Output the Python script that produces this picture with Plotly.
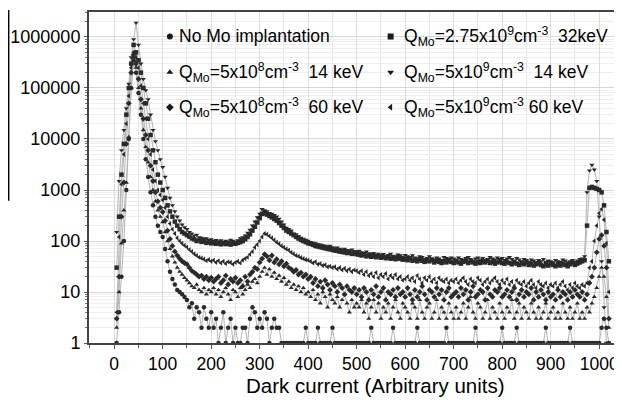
import plotly.graph_objects as go

# Channel positions (Arbitrary units), every 5 channels
channels = list(range(5, 1021, 5))

# Counts per series, rows of 20 channels (5-100, 105-200, ..., 905-1000, 1005-1020)
no_mo = [
    1, 4, 20, 100, 1000, 10000, 100000, 350000, 200000, 80000, 30000, 10000, 4000, 1800, 900, 500, 300, 200, 150, 120,
    70, 40, 25, 18, 14, 11, 10, 9, 8, 7, 5, 6, 3, 5, 4, 2, 5, 3, 2, 4,
    2, 3, 1, 2, 4, 1, 2, 3, 1, 2, 1, 1, 2, 2, 1, 3, 5, 4, 2, 3,
    2, 4, 3, 1, 2, 3, 2, 2, 1, 1, 1, 1, 1, 1, 1, 1, 1, 1, 2, 1,
    1, 1, 1, 2, 1, 1, 1, 1, 1, 2, 1, 1, 1, 1, 1, 1, 1, 1, 1, 1,
    1, 1, 1, 1, 1, 2, 1, 1, 1, 1, 1, 1, 1, 1, 2, 1, 1, 1, 1, 1,
    1, 1, 1, 1, 2, 1, 1, 1, 1, 1, 1, 1, 1, 1, 1, 1, 2, 1, 1, 1,
    1, 1, 1, 1, 1, 1, 1, 1, 2, 1, 1, 1, 1, 1, 1, 1, 1, 1, 1, 2,
    1, 1, 1, 1, 1, 2, 1, 1, 1, 1, 1, 1, 1, 1, 1, 1, 1, 2, 1, 1,
    1, 1, 1, 1, 1, 1, 1, 2, 1, 1, 1, 1, 1, 1, 1, 1, 1, 1, 1, 1,
    2, 3, 2, 1,
]

q275e9_32 = [
    30, 300, 2000, 8000, 30000, 100000, 300000, 700000, 500000, 350000, 200000, 100000, 50000, 25000, 12000, 6000, 3500, 2000, 1400, 1000,
    700, 500, 380, 300, 240, 200, 170, 150, 140, 130, 122, 112, 108, 100, 103, 96, 99, 92, 95, 90,
    92, 88, 90, 86, 91, 87, 89, 85, 90, 88, 92, 95, 100, 108, 120, 135, 160, 190, 230, 280,
    340, 350, 330, 310, 290, 270, 250, 225, 200, 180, 160, 150, 140, 130, 120, 112, 105, 100, 95, 90,
    88, 84, 80, 78, 76, 74, 72, 70, 69, 67, 65, 64, 62, 61, 60, 58, 59, 56, 57, 55,
    54, 52, 55, 50, 52, 49, 51, 48, 50, 47, 49, 46, 48, 45, 47, 44, 46, 45, 43, 44,
    42, 45, 41, 43, 40, 44, 41, 39, 42, 40, 43, 38, 41, 39, 37, 40, 38, 41, 39, 37,
    40, 38, 36, 39, 41, 37, 40, 38, 36, 39, 37, 40, 38, 41, 37, 39, 36, 38, 40, 37,
    36, 39, 37, 35, 38, 36, 34, 37, 35, 38, 34, 36, 33, 35, 37, 34, 32, 35, 33, 36,
    34, 32, 35, 33, 36, 34, 32, 35, 37, 34, 36, 38, 40, 42, 200, 1100, 1150, 1100, 1050, 1000,
    900, 500, 150, 40,
]

q5e8_14 = [
    2, 10, 90, 400, 1400, 11000, 100000, 400000, 250000, 100000, 40000, 15000, 7000, 3500, 1800, 1000, 600, 400, 300, 235,
    150, 100, 70, 50, 38, 30, 25, 22, 19, 17, 15, 13, 12, 14, 11, 10, 12, 9, 11, 10,
    12, 9, 11, 8, 10, 12, 9, 7, 11, 10, 8, 12, 9, 11, 14, 12, 16, 18, 15, 20,
    25, 30, 22, 28, 20, 24, 18, 21, 16, 19, 14, 16, 12, 14, 11, 13, 10, 12, 9, 10,
    8, 11, 7, 9, 6, 10, 8, 5, 9, 7, 6, 8, 5, 7, 9, 6, 4, 7, 5, 6,
    5, 7, 4, 6, 3, 5, 7, 4, 6, 3, 5, 4, 6, 3, 5, 7, 4, 3, 6, 5,
    4, 3, 6, 5, 3, 7, 4, 3, 5, 6, 3, 4, 7, 3, 5, 4, 3, 6, 4, 3,
    5, 3, 4, 6, 3, 5, 8, 4, 3, 6, 5, 3, 4, 7, 3, 5, 4, 3, 6, 4,
    3, 5, 4, 7, 3, 4, 6, 3, 5, 4, 3, 6, 4, 3, 5, 3, 4, 6, 3, 4,
    5, 3, 4, 3, 6, 4, 3, 5, 3, 4, 6, 3, 4, 3, 5, 4, 6, 8, 12, 20,
    30, 20, 8, 2,
]

q5e9_14 = [
    150, 1500, 6000, 15000, 40000, 120000, 400000, 900000, 1900000, 700000, 300000, 150000, 90000, 60000, 30000, 15000, 9000, 6000, 4000, 2800,
    1800, 1100, 700, 500, 380, 300, 250, 210, 185, 170, 150, 140, 128, 132, 118, 115, 110, 113, 105, 108,
    100, 104, 98, 103, 96, 100, 97, 105, 100, 96, 103, 112, 118, 128, 145, 165, 200, 240, 290, 340,
    420, 400, 380, 350, 340, 320, 300, 270, 240, 210, 180, 170, 160, 140, 135, 125, 115, 110, 105, 100,
    95, 92, 90, 86, 85, 82, 80, 78, 80, 75, 72, 74, 70, 68, 70, 66, 65, 68, 63, 62,
    64, 60, 58, 62, 57, 55, 58, 54, 56, 52, 55, 50, 53, 56, 51, 50, 54, 52, 49, 53,
    50, 48, 52, 47, 45, 50, 48, 44, 46, 50, 45, 43, 47, 45, 42, 48, 46, 44, 47, 45,
    43, 47, 44, 42, 46, 48, 44, 41, 45, 47, 43, 46, 42, 44, 48, 45, 43, 47, 44, 46,
    42, 45, 48, 44, 41, 46, 43, 40, 44, 42, 39, 43, 41, 38, 42, 40, 44, 39, 41, 40,
    38, 42, 40, 39, 43, 41, 38, 40, 42, 39, 41, 44, 45, 50, 900, 2400, 3100, 2500, 1500, 300,
    40, 5, 1, 1,
]

q5e8_60 = [
    3, 20, 300, 1400, 8000, 50000, 200000, 450000, 300000, 150000, 60000, 25000, 12000, 6000, 3000, 1500, 900, 600, 450, 370,
    250, 160, 110, 80, 62, 52, 45, 40, 37, 35, 30, 26, 24, 22, 20, 21, 18, 20, 17, 19,
    16, 18, 20, 15, 17, 21, 14, 18, 16, 19, 15, 17, 13, 20, 16, 22, 25, 30, 28, 38,
    45, 55, 50, 42, 52, 38, 44, 35, 40, 32, 36, 30, 28, 25, 27, 22, 24, 20, 22, 18,
    20, 15, 18, 13, 16, 12, 17, 14, 11, 15, 13, 10, 14, 12, 9, 13, 11, 10, 12, 9,
    11, 8, 12, 10, 7, 11, 9, 13, 8, 10, 12, 7, 10, 9, 11, 8, 12, 9, 10, 8,
    12, 9, 7, 11, 8, 10, 13, 9, 7, 11, 10, 8, 12, 9, 11, 7, 10, 12, 8, 9,
    10, 8, 12, 9, 11, 7, 10, 13, 8, 9, 11, 10, 7, 12, 9, 8, 11, 10, 12, 8,
    9, 11, 8, 10, 12, 7, 9, 11, 8, 10, 9, 12, 7, 10, 8, 11, 9, 7, 10, 8,
    9, 7, 11, 8, 10, 9, 7, 10, 8, 11, 9, 8, 10, 7, 9, 15, 20, 30, 60, 110,
    130, 80, 30, 3,
]

q5e9_60 = [
    4, 120, 1300, 5000, 20000, 70000, 250000, 500000, 400000, 250000, 110000, 50000, 25000, 10000, 5000, 2500, 1500, 1000, 800, 640,
    450, 300, 220, 170, 140, 115, 100, 90, 82, 76, 68, 62, 56, 52, 48, 46, 44, 41, 43, 40,
    42, 38, 41, 37, 40, 36, 39, 38, 35, 38, 40, 37, 42, 45, 48, 55, 62, 75, 85, 100,
    120, 140, 135, 125, 115, 105, 95, 88, 80, 75, 70, 66, 60, 56, 52, 50, 47, 45, 43, 42,
    40, 37, 39, 35, 36, 33, 34, 31, 32, 30, 31, 28, 30, 27, 29, 26, 28, 25, 27, 26,
    24, 26, 22, 25, 21, 23, 20, 24, 19, 22, 20, 23, 18, 21, 19, 22, 18, 20, 17, 18,
    20, 17, 19, 16, 21, 18, 15, 19, 17, 20, 16, 18, 15, 19, 17, 16, 18, 15, 17, 16,
    18, 15, 17, 19, 16, 14, 18, 16, 15, 19, 17, 14, 16, 18, 15, 17, 19, 16, 14, 17,
    15, 18, 14, 16, 13, 17, 15, 14, 16, 13, 15, 17, 14, 12, 16, 14, 13, 15, 12, 14,
    13, 15, 12, 14, 16, 13, 11, 14, 12, 15, 13, 12, 14, 13, 15, 30, 40, 100, 200, 350,
    420, 260, 90, 10,
]

NB = "\u00a0"
series_names = [
    "No Mo implantation",
    "Q<sub>Mo</sub>=2.75x10<sup>9</sup>cm<sup>-3</sup>" + NB + NB + "32keV",
    "Q<sub>Mo</sub>=5x10<sup>8</sup>cm<sup>-3</sup>" + NB + NB + "14 keV",
    "Q<sub>Mo</sub>=5x10<sup>9</sup>cm<sup>-3</sup>" + NB + NB + "14 keV",
    "Q<sub>Mo</sub>=5x10<sup>8</sup>cm<sup>-3</sup>" + NB + NB + "60 keV",
    "Q<sub>Mo</sub>=5x10<sup>9</sup>cm<sup>-3</sup>" + NB + "60 keV",
]
series_values = [no_mo, q275e9_32, q5e8_14, q5e9_14, q5e8_60, q5e9_60]
series_symbols = ["circle", "square", "triangle-up", "triangle-down", "diamond", "triangle-left"]

y_tick_vals = [1, 10, 100, 1000, 10000, 100000, 1000000]
y_tick_text = ["1", "10", "100", "1000", "10000", "100000", "1000000"]
x_tick_vals = [0, 100, 200, 300, 400, 500, 600, 700, 800, 900, 1000]
x_title = "Dark current (Arbitrary units)"

FONT = "Liberation Sans, Arial, sans-serif"

# legend key layout (paper fractions of the plot area), two columns x three rows
KEY_COL_X = [0.152, 0.567]
TEXT_COL_X = [0.166, 0.588]
ROW_Y = [0.926, 0.818, 0.712]

fig = go.Figure()
for vals in series_values:
    fig.add_trace(go.Scatter(
        x=channels, y=vals, mode="lines",
        line=dict(color="#b4b4b4", width=1),
        showlegend=False, hoverinfo="skip",
    ))
for name, vals, sym in zip(series_names, series_values, series_symbols):
    fig.add_trace(go.Scatter(
        x=channels, y=vals, mode="markers", name=name, showlegend=False,
        marker=dict(symbol=sym, size=4.5, color="#2a2a2a", line=dict(width=0)),
    ))

# legend keys drawn on an overlay axis spanning the plot area
for i, (name, sym) in enumerate(zip(series_names, series_symbols)):
    col, row = i % 2, i // 2
    fig.add_trace(go.Scatter(
        x=[KEY_COL_X[col]], y=[ROW_Y[row]], xaxis="x2", yaxis="y2",
        mode="markers", showlegend=False, hoverinfo="skip",
        marker=dict(symbol=sym, size=6, color="#1a1a1a", line=dict(width=0)),
    ))
    fig.add_annotation(
        x=TEXT_COL_X[col], y=ROW_Y[row], xref="paper", yref="paper",
        xanchor="left", yanchor="middle", showarrow=False,
        text=name, font=dict(family=FONT, size=17.5, color="black"),
    )

# x-axis title (sits slightly right of the plot centre in the original)
fig.add_annotation(
    x=0.538, y=-0.127, xref="paper", yref="paper",
    xanchor="center", yanchor="middle", showarrow=False,
    text=x_title, font=dict(family=FONT, size=20.5, color="black"),
)

# The page body has an 8px default margin, so margins are offset by 8px
fig.update_layout(
    width=622, height=403,
    margin=dict(l=81, r=9, t=4, b=68),
    paper_bgcolor="white", plot_bgcolor="white",
    font=dict(family=FONT, size=18, color="black"),
    showlegend=False,
    xaxis=dict(
        range=[-52, 1045], tickvals=x_tick_vals, automargin=False,
        showgrid=True, gridcolor="#dcdcdc", gridwidth=1,
        minor=dict(dtick=50, showgrid=True, gridcolor="#e6e6e6", ticks="outside", ticklen=3, tickcolor="#555"),
        ticks="outside", ticklen=4, tickcolor="#555",
        showline=True, linecolor="#444", linewidth=2, mirror=True,
        zeroline=False,
        tickfont=dict(family=FONT, size=17.5),
    ),
    yaxis=dict(
        type="log", range=[0, 6.49], automargin=False,
        tickvals=y_tick_vals, ticktext=y_tick_text,
        showgrid=True, gridcolor="#d6d6d6", gridwidth=1,
        minor=dict(dtick="D1", showgrid=True, gridcolor="#eeeeee", ticks="outside", ticklen=2, tickcolor="#777"),
        ticks="outside", ticklen=3, tickcolor="#555",
        showline=True, linecolor="#444", linewidth=2, mirror=True,
        zeroline=False,
        tickfont=dict(family=FONT, size=18),
    ),
    xaxis2=dict(overlaying="x", range=[0, 1], visible=False, fixedrange=True),
    yaxis2=dict(overlaying="y", range=[0, 1], visible=False, fixedrange=True),
)

# stray vertical rule at the far left of the original figure
fig.add_shape(type="line", xref="paper", yref="paper",
              x0=-0.151, x1=-0.151, y0=1.006, y1=0.43,
              line=dict(color="black", width=1.5))

fig.write_html("out.html")
